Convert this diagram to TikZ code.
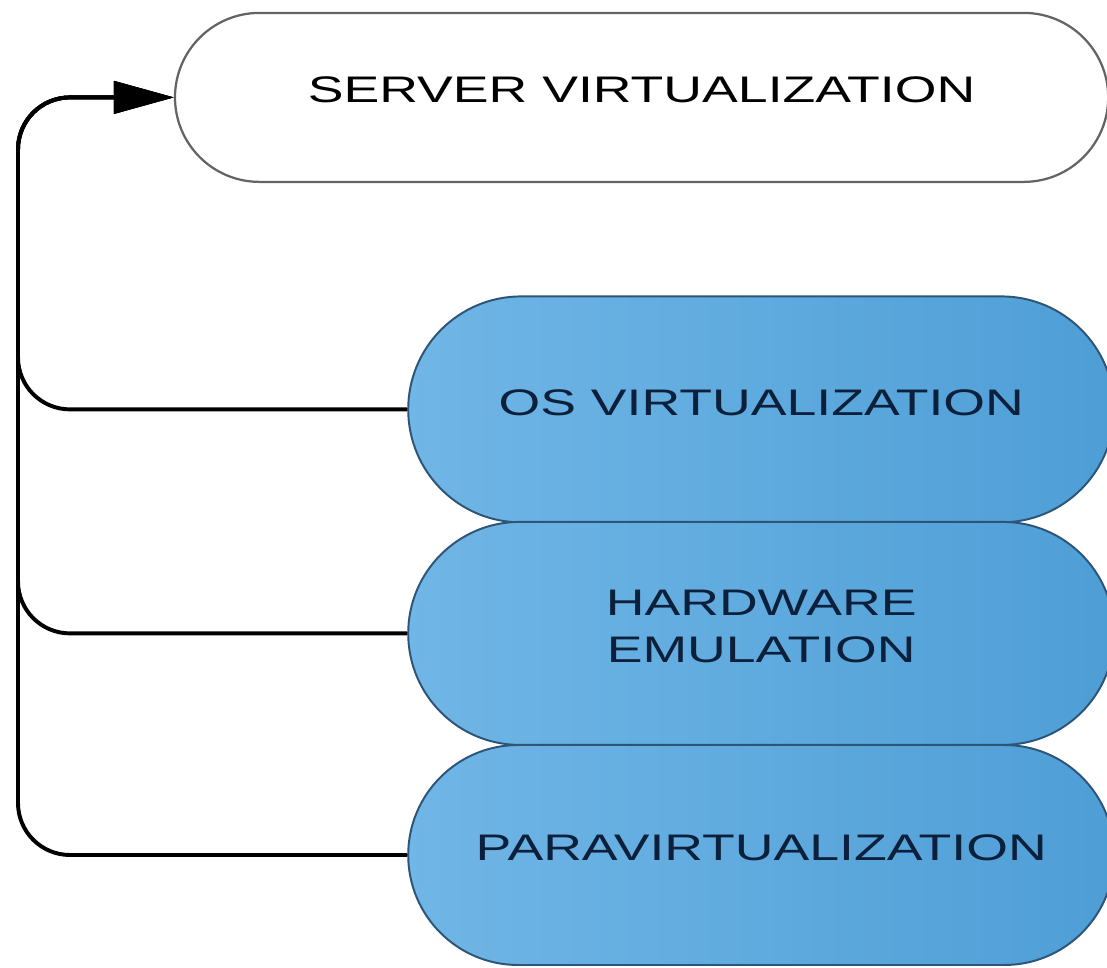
\documentclass[tikz,border=0pt]{standalone}
\usepackage{fontspec}
\newfontfamily\diagfont[FakeStretch=1.45]{Liberation Sans}
\usetikzlibrary{shapes.misc, arrows.meta}

\definecolor{bluelight}{RGB}{112,182,230}
\definecolor{bluedark}{RGB}{78,158,214}
\definecolor{pillborder}{RGB}{45,85,120}
\definecolor{navytext}{RGB}{12,32,60}
\definecolor{servergray}{RGB}{100,100,100}

\begin{document}
\begin{tikzpicture}[
    font=\diagfont\fontsize{26.3}{33.4}\selectfont,
    pill/.style={rounded rectangle, draw=pillborder, line width=1.4pt,
        left color=bluelight, right color=bluedark, text=navytext,
        minimum width=17.65cm, inner sep=0pt, text depth=0.35cm, align=center},
    link/.style={-{Triangle[length=1.5cm, width=0.8cm]}, line width=2.8pt,
        rounded corners=1.3cm}
]

\useasboundingbox (0, 0) rectangle (27.675, 24.175);

\node[rounded rectangle, draw=servergray, line width=1.6pt, fill=white,
    minimum width=23.33cm, minimum height=4.225cm, inner sep=0pt,
    text depth=0.4cm] (server) at (16.04, 21.74) {SERVER VIRTUALIZATION};

\node[pill, minimum height=5.65cm] (os) at (19.03, 13.94) {OS VIRTUALIZATION};
\node[pill, minimum height=5.575cm] (hw) at (19.03, 8.34) {HARDWARE\\EMULATION};
\node[pill, minimum height=5.5cm] (para) at (19.03, 2.8) {PARAVIRTUALIZATION};

\coordinate (spine) at (0.45, 21.74);

\draw[link] (os.west) -| (spine) -- (server.west);
\draw[link] (hw.west) -| (spine) -- (server.west);
\draw[link] (para.west) -| (spine) -- (server.west);

\end{tikzpicture}
\end{document}
